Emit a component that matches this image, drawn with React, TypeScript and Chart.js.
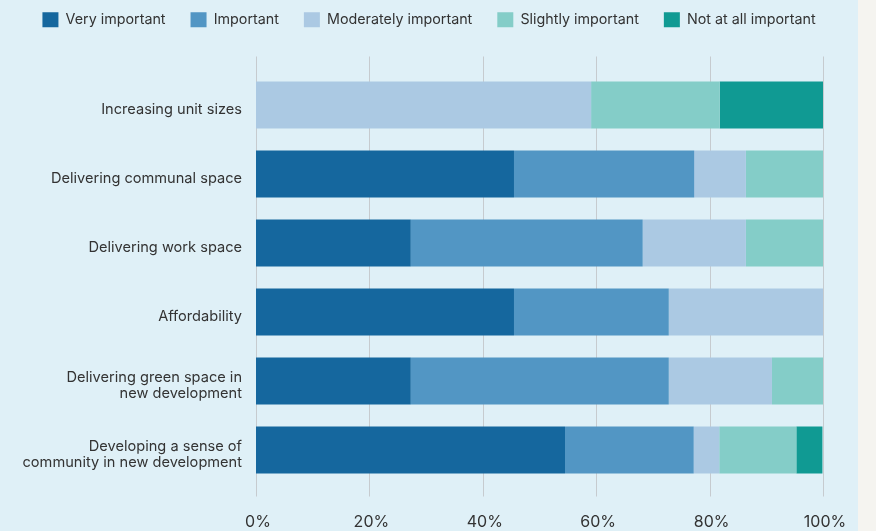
import React, { useEffect, useRef } from "react";
import { Chart, registerables } from "chart.js";

Chart.register(...registerables);

const categories: (string | string[])[] = [
  "Increasing unit sizes",
  "Delivering communal space",
  "Delivering work space",
  "Affordability",
  ["Delivering green space in", "new development"],
  ["Developing a sense of", "community in new development"],
];

const seriesNames = [
  "Very important",
  "Important",
  "Moderately important",
  "Slightly important",
  "Not at all important",
];

const veryImportant = [0, 45.5, 27.3, 45.5, 27.3, 54.5];
const important = [0, 31.8, 40.9, 27.3, 45.5, 22.7];
const moderatelyImportant = [59.1, 9.1, 18.2, 27.3, 18.2, 4.5];
const slightlyImportant = [22.7, 13.6, 13.6, 0, 9.1, 13.6];
const notAtAllImportant = [18.2, 0, 0, 0, 0, 4.6];

const xTicks = [0, 20, 40, 60, 80, 100];

const seriesColors = ["#15679e", "#5296c4", "#abc9e3", "#84cdc8", "#109a93"];

const FONT = "Inter, 'Liberation Sans', sans-serif";
const TEXT = "#333333";

export default function App() {
  const ref = useRef<HTMLCanvasElement | null>(null);

  useEffect(() => {
    document.body.style.margin = "0";
    document.body.style.background = "#f5f4f0";
    const canvas = ref.current;
    if (!canvas) return;

    const gridExtend = {
      id: "gridExtend",
      beforeDatasetsDraw(chart: any) {
        const { ctx, chartArea, scales } = chart;
        const x = scales.x;
        ctx.save();
        ctx.strokeStyle = "#c6cbcf";
        ctx.lineWidth = 1;
        x.ticks.forEach((t: any) => {
          const px = Math.round(x.getPixelForValue(t.value)) + 0.5;
          ctx.beginPath();
          ctx.moveTo(px, chartArea.top - 14);
          ctx.lineTo(px, chartArea.bottom + 12);
          ctx.stroke();
        });
        ctx.restore();
      },
    };

    const legendSpacer = {
      id: "legendSpacer",
      afterInit(chart: any) {
        const legend = chart.legend;
        if (!legend) return;
        const orig = legend.fit;
        legend.fit = function () {
          orig.call(this);
          this.height += 33.2;
        };
      },
    };

    const data = [veryImportant, important, moderatelyImportant, slightlyImportant, notAtAllImportant];

    const chart = new Chart(canvas, {
      type: "bar",
      data: {
        labels: categories,
        datasets: seriesNames.map((name, i) => ({
          label: name,
          data: data[i],
          backgroundColor: seriesColors[i],
          borderWidth: 0,
          categoryPercentage: 1,
          barPercentage: 0.68,
        })),
      },
      options: {
        indexAxis: "y",
        responsive: false,
        animation: false,
        devicePixelRatio: 1,
        layout: { padding: { top: -12.7, left: 0, right: 0, bottom: -28.7 } },
        plugins: {
          legend: {
            position: "top",
            align: "center",
            labels: {
              boxWidth: 16,
              boxHeight: 15,
              padding: 25,
              color: TEXT,
              font: { family: FONT, size: 14.3 },
            },
          },
          tooltip: { enabled: false },
        },
        scales: {
          x: {
            stacked: true,
            min: 0,
            max: 100,
            afterBuildTicks: (scale: any) => {
              scale.ticks = xTicks.map((v) => ({ value: v }));
            },
            afterFit: (scale: any) => {
              scale.paddingLeft = 0;
              scale.paddingRight = 35;
            },
            grid: { display: false, drawTicks: false },
            border: { display: false },
            ticks: {
              color: TEXT,
              padding: 28,
              labelOffset: 2,
              font: { family: FONT, size: 16 },
              callback: (v: any) => v + "%",
            },
          },
          y: {
            stacked: true,
            afterFit: (scale: any) => {
              scale.width = 256;
              scale.paddingTop = 0;
              scale.paddingBottom = 0;
            },
            grid: { display: false, drawTicks: false },
            border: { display: false },
            ticks: {
              color: TEXT,
              padding: 14,
              labelOffset: 5,
              font: { family: FONT, size: 14.6, lineHeight: 1.1 },
            },
          },
        },
      },
      plugins: [gridExtend, legendSpacer],
    });

    return () => chart.destroy();
  }, []);

  return (
    <div style={{ width: 858, height: 531, background: "#dff0f7" }}>
      <canvas ref={ref} width={858} height={531} style={{ display: "block", width: 858, height: 531 }} />
    </div>
  );
}
